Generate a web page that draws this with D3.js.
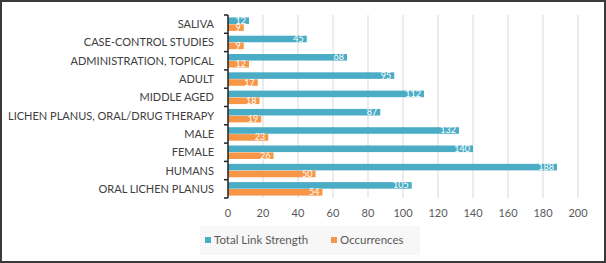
<!DOCTYPE html>
<html><head><meta charset="utf-8">
<script src="https://cdn.jsdelivr.net/npm/d3@7"></script>
<style>body{margin:0;background:#fff}svg{display:block}</style>
</head><body>
<svg id="c" width="606" height="263"></svg>
<script>
const categories = ["SALIVA","CASE-CONTROL STUDIES","ADMINISTRATION, TOPICAL","ADULT","MIDDLE AGED","LICHEN PLANUS, ORAL/DRUG THERAPY","MALE","FEMALE","HUMANS","ORAL LICHEN PLANUS"];
const totalLinkStrength = [12,45,68,95,112,87,132,140,188,105];
const occurrences = [9,9,12,17,18,19,23,26,50,54];
const xTicks = [0,20,40,60,80,100,120,140,160,180,200];
const seriesNames = ["Total Link Strength","Occurrences"];
const colors = ["#4bacc6","#f79646"];

const svg = d3.select("#c");
const font = "Lato, 'Open Sans', sans-serif";
svg.append("rect").attr("x",1).attr("y",1).attr("width",604).attr("height",261)
  .attr("fill","#fff").attr("stroke","#3a3a3a").attr("stroke-width",2);

const x = d3.scaleLinear().domain([0,200]).range([228,578]);
const y = d3.scaleBand().domain(categories).range([15,198]);
const inner = d3.scaleBand().domain([0,1]).range([0,y.bandwidth()]).paddingOuter(0.35).paddingInner(0.05);

// gridlines
svg.append("g").selectAll("line").data(xTicks.slice(1)).join("line")
  .attr("x1",d=>x(d)).attr("x2",d=>x(d)).attr("y1",15).attr("y2",198)
  .attr("stroke","#d9d9d9").attr("stroke-width",1);

// x tick labels
svg.append("g").selectAll("text").data(xTicks).join("text")
  .attr("x",d=>x(d)).attr("y",217).attr("text-anchor","middle")
  .attr("font-family",font).attr("font-size",11).attr("fill","#595959").text(d=>d);

// bars
const series = [totalLinkStrength, occurrences];
series.forEach((vals,si)=>{
  const g = svg.append("g");
  g.selectAll("rect").data(vals).join("rect")
    .attr("x",x(0)).attr("y",(d,i)=>y(categories[i])+inner(si))
    .attr("width",d=>x(d)-x(0)).attr("height",inner.bandwidth())
    .attr("fill",colors[si]);
  g.selectAll("text").data(vals).join("text")
    .attr("x",d=>x(d)-3).attr("y",(d,i)=>y(categories[i])+inner(si)+inner.bandwidth()/2+3)
    .attr("text-anchor","end").attr("font-family",font).attr("font-size",9)
    .attr("fill","#fff").text(d=>d);
});

// y axis
const yAxis = svg.append("g").attr("transform",`translate(${x(0)},0)`);
yAxis.append("line").attr("x1",0).attr("x2",0).attr("y1",15).attr("y2",198).attr("stroke","#222").attr("stroke-width",1.5);
const tickYs = categories.map(c=>y(c)).concat([198]);
yAxis.selectAll("line.t").data(tickYs).join("line").attr("class","t")
  .attr("x1",-4).attr("x2",0).attr("y1",d=>d).attr("y2",d=>d).attr("stroke","#222").attr("stroke-width",1.5);
svg.append("g").selectAll("text").data(categories).join("text")
  .attr("x",214).attr("y",d=>y(d)+y.bandwidth()/2+4).attr("text-anchor","end")
  .attr("font-family",font).attr("font-size",11).attr("fill","#404040").text(d=>d);

// legend
const lg = svg.append("g");
lg.append("rect").attr("x",200).attr("y",226).attr("width",220).attr("height",29).attr("fill","#f7f7f7");
const lx = [205,331];
seriesNames.forEach((n,i)=>{
  lg.append("rect").attr("x",lx[i]).attr("y",237).attr("width",6).attr("height",6).attr("fill",colors[i]);
  lg.append("text").attr("x",lx[i]+9).attr("y",244).attr("font-family",font).attr("font-size",11.5)
    .attr("fill","#595959").text(n);
});
</script>
</body></html>
